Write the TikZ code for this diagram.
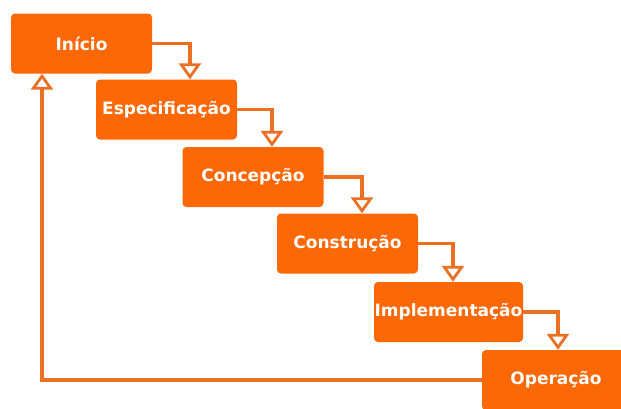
\documentclass[tikz,border=0pt]{standalone}
\usepackage{fontspec}
\newfontfamily\fasefont{DejaVu Sans}
\usetikzlibrary{arrows.meta}
\definecolor{boxorange}{RGB}{252,104,6}
\definecolor{lineorange}{RGB}{236,112,36}
\begin{document}
\begin{tikzpicture}[x=1pt,y=-1pt,
    fase/.style={fill=boxorange,rounded corners=4pt,minimum width=141pt,minimum height=60pt,
      inner sep=0pt,text=white,font=\fasefont\bfseries\fontsize{17}{19}\selectfont},
    seta/.style={draw=lineorange,line width=3.3pt,
      -{Triangle[width=22pt,length=16pt,fill=white,line width=2.8pt]}}]
    \clip (0,0) rectangle (621,408);
    \node[fase] (inicio) at (81.5,43.5) {Início};
    \node[fase] (espec) at (166.5,109.5) {Especificação};
    \node[fase] (concep) at (253,177) {Concepção};
    \node[fase] (constr) at (347.5,243.5) {Construção};
    \node[fase,minimum width=149pt] (implem) at (448.5,312) {Implementação};
    \node[fase,minimum width=148pt] (oper) at (556,380) {Operação};
    \foreach \a/\b/\s in {inicio/espec/23.5,espec/concep/19,concep/constr/14.5,constr/implem/4.5,implem/oper/2}
      \draw[seta] (\a.east) -| ([xshift=\s pt]\b.north);
    \draw[seta] (oper.west) -| ([xshift=-39.5pt]inicio.south);
\end{tikzpicture}
\end{document}
